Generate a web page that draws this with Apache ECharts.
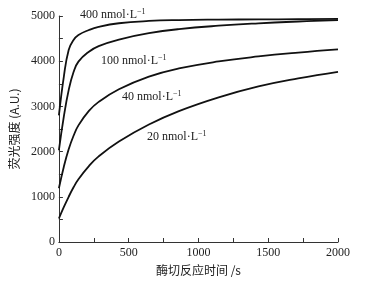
<!DOCTYPE html>
<html>
<head>
<meta charset="utf-8">
<script src="https://cdn.jsdelivr.net/npm/echarts@6/dist/echarts.min.js"></script>
<style>
html, body { margin: 0; padding: 0; background: #fff; }
#chartImg { width: 366px; height: 284px; }
</style>
</head>
<body>
<div id="chartImg"></div>
<script>
// reaction time (s)
var times = [0, 35, 70, 105, 140, 215, 285, 430, 645, 860, 1145, 1430, 1715, 2000];
// fluorescence, one array per enzyme concentration
var c400 = [2800, 3650, 4250, 4470, 4580, 4690, 4760, 4840, 4890, 4910, 4920, 4925, 4930, 4935];
var c100 = [2030, 2770, 3360, 3760, 3990, 4210, 4335, 4480, 4620, 4710, 4785, 4838, 4878, 4910];
var c40  = [1190, 1660, 2050, 2350, 2580, 2900, 3100, 3380, 3660, 3840, 3995, 4105, 4190, 4260];
var c20  = [520, 770, 1000, 1210, 1390, 1680, 1895, 2222, 2598, 2895, 3200, 3442, 3620, 3765];
var names = ['400', '100', '40', '20'];

function pairs(arr) {
    return times.map(function (t, i) { return [t, arr[i]]; });
}

var serif = '"Liberation Serif", "DejaVu Serif", serif';
var cjk = '"Noto Sans CJK SC", sans-serif';

function curve(arr) {
    return {
        type: 'line',
        data: pairs(arr),
        smooth: 0.45,
        showSymbol: false,
        lineStyle: { color: '#111', width: 1.8 },
        silent: true
    };
}

function concLabel(txt, x, y) {
    return {
        type: 'text',
        left: x,
        top: y,
        style: {
            text: '{m|' + txt + ' nmol·L}{s|−1}',
            rich: {
                m: { fontFamily: serif, fontSize: 12, fill: '#222', lineHeight: 14 },
                s: { fontFamily: serif, fontSize: 8, fill: '#222', verticalAlign: 'top', lineHeight: 14 }
            }
        }
    };
}

var myChart = echarts.init(document.getElementById('chartImg'));
var option = {
    animation: false,
    grid: { left: 58, right: 28, top: 16, bottom: 42 },
    xAxis: {
        type: 'value',
        min: 0,
        max: 2000,
        interval: 250,
        name: '酶切反应时间 /s',
        nameLocation: 'middle',
        nameGap: 22,
        nameTextStyle: { fontFamily: cjk, fontSize: 12, color: '#222' },
        axisLine: { lineStyle: { color: '#333', width: 1 } },
        axisTick: { inside: true, length: 4, lineStyle: { color: '#333' } },
        axisLabel: {
            fontFamily: serif, fontSize: 12, color: '#222', margin: 5,
            formatter: function (v) { return v % 500 === 0 ? String(v) : ''; }
        },
        splitLine: { show: false }
    },
    yAxis: {
        type: 'value',
        min: 0,
        max: 5000,
        interval: 500,
        name: '荧光强度 (A.U.)',
        nameLocation: 'middle',
        nameRotate: 90,
        nameGap: 33,
        nameTextStyle: { fontFamily: cjk, fontSize: 12, color: '#222' },
        axisLine: { show: true, lineStyle: { color: '#333', width: 1 } },
        axisTick: { show: true, inside: true, length: 4, lineStyle: { color: '#333' } },
        axisLabel: {
            fontFamily: serif, fontSize: 12, color: '#222', margin: 4,
            formatter: function (v) { return v % 1000 === 0 ? String(v) : ''; }
        },
        splitLine: { show: false }
    },
    series: [curve(c400), curve(c100), curve(c40), curve(c20)],
    graphic: [
        concLabel(names[0], 80, 8),
        concLabel(names[1], 101, 54),
        concLabel(names[2], 122, 90),
        concLabel(names[3], 147, 130)
    ]
};
myChart.setOption(option);
</script>
</body>
</html>
